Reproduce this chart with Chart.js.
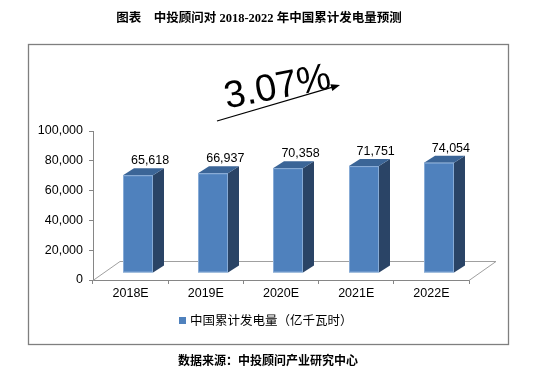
<!DOCTYPE html>
<html>
<head>
<meta charset="utf-8">
<script src="https://cdn.jsdelivr.net/npm/chart.js@4.4.0/dist/chart.umd.min.js"></script>
<style>
html, body { margin: 0; padding: 0; background: #fff; }
#wrap { width: 543px; height: 389px; }
</style>
</head>
<body>
<div id="wrap"><canvas id="chart" width="543" height="389"></canvas></div>
<script>
// 数据
const titleText = '图表　中投顾问对 2018-2022 年中国累计发电量预测';
const sourceText = '数据来源：中投顾问产业研究中心';
const seriesName = '中国累计发电量（亿千瓦时）';
const growthText = '3.07%';
const years = ['2018E', '2019E', '2020E', '2021E', '2022E'];
const generation = [65618, 66937, 70358, 71751, 74054];
const yTicks = [0, 20000, 40000, 60000, 80000, 100000];

const FRONT = '#4f81bd';
const SIDE = '#2a4466';
const TOP = '#3b6597';
const AXIS = '#868686';

const fmt = v => v.toLocaleString('en-US');

// 3D 柱、地板、标题、图例等
const bar3d = {
    id: 'bar3d',
    beforeDraw(chart) {
        const ctx = chart.ctx;
        ctx.save();
        ctx.fillStyle = '#fff';
        ctx.fillRect(0, 0, chart.width, chart.height);

        // 外框
        ctx.strokeStyle = '#7f7f7f';
        ctx.lineWidth = 1.3;
        ctx.strokeRect(28.5, 44.5, 480, 300);

        // 标题
        ctx.fillStyle = '#000';
        ctx.font = "bold 12.5px 'Liberation Serif', 'Noto Sans CJK SC'";
        ctx.textAlign = 'center';
        ctx.textBaseline = 'middle';
        ctx.fillText(titleText, 259, 19);

        // 图例
        ctx.fillStyle = FRONT;
        ctx.fillRect(179, 317, 7, 7);
        ctx.fillStyle = '#000';
        ctx.font = "12.5px 'Noto Sans CJK SC'";
        ctx.textAlign = 'left';
        ctx.fillText(seriesName, 190, 320.5);

        // 数据来源
        ctx.font = "bold 12px 'Noto Sans CJK SC'";
        ctx.textAlign = 'center';
        ctx.fillText(sourceText, 268, 360);
        ctx.restore();
    },
    beforeDatasetsDraw(chart) {
        const ctx = chart.ctx;
        const area = chart.chartArea;
        ctx.save();
        // 地板
        ctx.strokeStyle = '#a0a0a0';
        ctx.lineWidth = 1;
        ctx.beginPath();
        ctx.moveTo(area.left, area.bottom + 0.5);
        ctx.lineTo(area.left + 27, area.bottom - 18.5);
        ctx.lineTo(area.right + 27, area.bottom - 18.5);
        ctx.lineTo(area.right, area.bottom + 0.5);
        ctx.stroke();

        const meta = chart.getDatasetMeta(0);
        const dx = 11, dy = -7;
        meta.data.forEach((bar, i) => {
            const w = bar.width;
            const l = Math.round(bar.x - w / 2 + 7.5);
            const r = Math.round(l + w);
            const t = bar.y - 7;
            const b = bar.base - 7;
            // 侧面
            ctx.fillStyle = SIDE;
            ctx.beginPath();
            ctx.moveTo(r, t); ctx.lineTo(r + dx, t + dy);
            ctx.lineTo(r + dx, b + dy); ctx.lineTo(r, b);
            ctx.closePath(); ctx.fill();
            // 顶面
            ctx.fillStyle = TOP;
            ctx.beginPath();
            ctx.moveTo(l, t); ctx.lineTo(l + dx, t + dy);
            ctx.lineTo(r + dx, t + dy); ctx.lineTo(r, t);
            ctx.closePath(); ctx.fill();
            // 正面
            ctx.fillStyle = FRONT;
            ctx.fillRect(l, t, r - l, b - t);
            ctx.strokeStyle = 'rgba(160,190,225,0.7)';
            ctx.strokeRect(l + 0.5, t + 0.5, r - l - 1, b - t - 1);
            // 数值标签
            ctx.fillStyle = '#000';
            ctx.font = "12.5px 'Liberation Sans', Arial";
            ctx.textAlign = 'center';
            ctx.textBaseline = 'alphabetic';
            ctx.fillText(fmt(generation[i]), bar.x + 19.5, t - 11);
        });
        ctx.restore();
        return false;
    },
    afterDraw(chart) {
        const ctx = chart.ctx;
        ctx.save();
        // 增长率标注
        ctx.translate(277, 85);
        ctx.rotate(-11 * Math.PI / 180);
        ctx.fillStyle = '#000';
        ctx.font = "38px 'Liberation Sans', Arial";
        ctx.textAlign = 'center';
        ctx.textBaseline = 'alphabetic';
        ctx.fillText(growthText, 0, 13.5);
        ctx.restore();

        ctx.save();
        const x0 = 217, y0 = 121, x1 = 340, y1 = 85;
        const ang = Math.atan2(y1 - y0, x1 - x0);
        ctx.strokeStyle = '#000';
        ctx.lineWidth = 1.3;
        ctx.beginPath();
        ctx.moveTo(x0, y0);
        ctx.lineTo(x1 - 6 * Math.cos(ang), y1 - 6 * Math.sin(ang));
        ctx.stroke();
        ctx.fillStyle = '#000';
        ctx.translate(x1, y1);
        ctx.rotate(ang);
        ctx.beginPath();
        ctx.moveTo(0, 0); ctx.lineTo(-9, -3.5); ctx.lineTo(-9, 3.5);
        ctx.closePath(); ctx.fill();
        ctx.restore();
    }
};

const ctx = document.getElementById('chart').getContext('2d');
const chart = new Chart(ctx, {
    type: 'bar',
    data: {
        labels: years,
        datasets: [{
            label: seriesName,
            data: generation,
            backgroundColor: FRONT,
            categoryPercentage: 1,
            barPercentage: 0.4
        }]
    },
    options: {
        responsive: false,
        animation: false,
        devicePixelRatio: 1,
        layout: { padding: { left: 28, right: 74, top: 131, bottom: 79 } },
        plugins: {
            legend: { display: false },
            title: { display: false },
            tooltip: { enabled: false }
        },
        scales: {
            x: {
                afterFit: s => { s.height = 30; },
                grid: { offset: true, drawOnChartArea: false, tickLength: 4, color: AXIS },
                border: { color: AXIS },
                ticks: { color: '#000', padding: 2, font: { family: "'Liberation Sans', Arial", size: 12.5 } }
            },
            y: {
                min: 0,
                max: yTicks[yTicks.length - 1],
                afterFit: s => { s.width = 65; },
                afterBuildTicks: s => { s.ticks = yTicks.map(v => ({ value: v })); },
                grid: { drawOnChartArea: false, tickLength: 4, color: AXIS },
                border: { color: AXIS },
                ticks: { color: '#000', padding: 6, callback: v => fmt(v), font: { family: "'Liberation Sans', Arial", size: 12.5 } }
            }
        }
    },
    plugins: [bar3d]
});
</script>
</body>
</html>
